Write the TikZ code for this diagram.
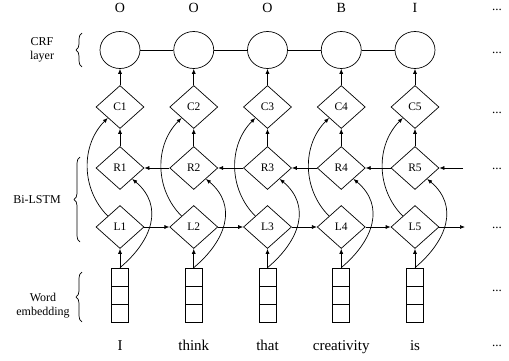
\documentclass[tikz,border=0pt]{standalone}
\usepackage{fontspec}
\setmainfont{Liberation Serif}
\usetikzlibrary{shapes.geometric,arrows.meta,decorations.pathreplacing}
\begin{document}
\begin{tikzpicture}[x=1pt,y=1pt,line width=0.7pt,
 cell/.style={diamond, draw, minimum width=48pt, minimum height=43pt, inner sep=0pt, font=\fontsize{11.5}{12}\selectfont},
 crf/.style={ellipse, draw, minimum width=40pt, minimum height=37pt, inner sep=0pt},
 emb/.style={rectangle, draw, minimum width=17pt, minimum height=18pt, inner sep=0pt},
 arr/.style={-{Latex[length=5pt,width=4pt]}},
 lbl/.style={font=\fontsize{12}{14}\selectfont, align=center},
 word/.style={font=\fontsize{15}{18}\selectfont, anchor=base},
 tag/.style={font=\fontsize{14}{16}\selectfont, anchor=base},
 dots/.style={font=\fontsize{13}{14}\selectfont, anchor=base},
 brc/.style={decorate, decoration={brace, amplitude=6pt}}
]
\useasboundingbox (0,0) rectangle (509,360);
\foreach \i/\x/\t/\w in {1/120/O/I, 2/193.75/O/think, 3/267.5/O/that, 4/341.25/B/creativity, 5/415/I/is}{
  \node[tag] (T\i) at (\x,348) {\t};
  \node[crf] (Y\i) at (\x,310) {};
  \node[cell] (C\i) at (\x,253) {C\i};
  \node[cell] (R\i) at (\x,192) {R\i};
  \node[cell] (L\i) at (\x,133) {L\i};
  \node[emb] (E\i a) at (\x,83) {};
  \node[emb] (E\i b) at (\x,65) {};
  \node[emb] (E\i c) at (\x,47) {};
  \node[word] (W\i) at (\x,10) {\w};
  \draw[arr] (C\i.north) -- (Y\i.south);
  \draw[arr] (R\i.north) -- (C\i.south);
  \draw[arr] (E\i a.north) -- (L\i.south);
  \draw[arr] (L\i.north west) to[out=135,in=225] (C\i.south west);
  \draw[arr] (E\i a.north) to[out=40,in=-40,looseness=1.2] (R\i.south east);
}
\foreach \i [evaluate=\i as \j using int(\i+1)] in {1,...,4}{
  \draw (Y\i.east) -- (Y\j.west);
  \draw[arr] (L\i.east) -- (L\j.west);
  \draw[arr] (R\j.west) -- (R\i.east);
}
\coordinate (Rin) at (463,192);
\coordinate (Lout) at (465,133);
\draw[arr] (Rin) -- (R5.east);
\draw[arr] (L5.east) -- (Lout);
% left labels and braces
\node[lbl] (crfl) at (42,310) {CRF\\layer};
\draw[brc] (82,293) -- (82,327);
\node[lbl] (bil) at (37,160) {Bi-LSTM};
\draw[brc] (80,118) -- (80,203);
\node[lbl] (wel) at (43,54) {Word\\embedding};
\draw[brc] (82,38) -- (82,88);
% right dots
\foreach \k/\y in {1/350,2/307,3/247,4/191,5/132,6/69,7/14}{
  \node[dots] (D\k) at (497,\y) {...};
}
\end{tikzpicture}
\end{document}
